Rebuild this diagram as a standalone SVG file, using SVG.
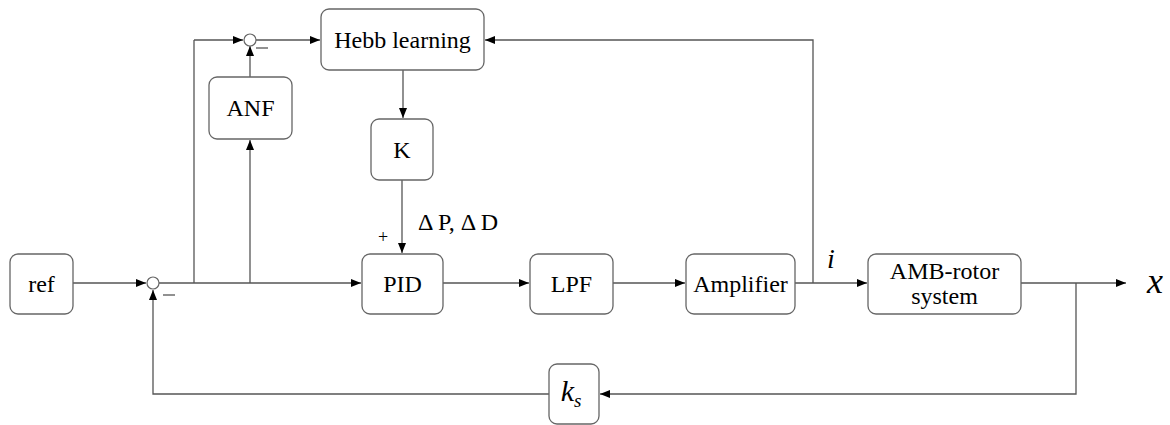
<svg xmlns="http://www.w3.org/2000/svg" width="1170" height="425" viewBox="0 0 1170 425">
<defs>
<marker id="ah" markerWidth="10" markerHeight="8" refX="10" refY="4" orient="auto" markerUnits="userSpaceOnUse">
<path d="M0,0 L10,4 L0,8 Z" fill="#000"/>
</marker>
<style>
.box{fill:#fff;stroke:#666;stroke-width:1.3}
.ln{fill:none;stroke:#555;stroke-width:1.3}
.ar{fill:none;stroke:#555;stroke-width:1.3;marker-end:url(#ah)}
.sum{fill:#fff;stroke:#666;stroke-width:1.2}
</style>
</defs>
<rect width="1170" height="425" fill="#fff"/>
<g id="connectors">
<path class="ar" d="M73,283 H146"/>
<path class="ar" d="M159,283 H361"/>
<path class="ln" d="M194,283 V40"/>
<path class="ar" d="M194,40 H243"/>
<path class="ar" d="M250,283 V140"/>
<path class="ar" d="M250,77 V46"/>
<path class="ar" d="M256,40 H320"/>
<path class="ar" d="M403,70 V118"/>
<path class="ar" d="M402,180 V253"/>
<path class="ar" d="M443,283 H529"/>
<path class="ar" d="M613,283 H685"/>
<path class="ar" d="M795,283 H867"/>
<path class="ar" d="M813,283 V40 H485"/>
<path class="ar" d="M1021,283 H1126"/>
<path class="ar" d="M1076,283 V394 H600"/>
<path class="ar" d="M549,394 H153 V290"/>
</g>
<g id="sum1">
<circle class="sum" cx="153" cy="283" r="6"/>
<path class="ln" d="M163,295 H175"/>
</g>
<g id="sum2">
<circle class="sum" cx="250" cy="40" r="6"/>
<path class="ln" d="M256,48 H268"/>
</g>
<g id="ref">
<rect class="box" x="10" y="254" width="63" height="60" rx="8"/>
<text font-family="Liberation Serif" font-size="24" text-anchor="middle" x="41.5" y="292">ref</text>
</g>
<g id="anf">
<rect class="box" x="209" y="77" width="83" height="62" rx="8"/>
<text font-family="Liberation Serif" font-size="24" text-anchor="middle" x="250.5" y="116">ANF</text>
</g>
<g id="hebb">
<rect class="box" x="321" y="9" width="163" height="61" rx="8"/>
<text font-family="Liberation Serif" font-size="24" text-anchor="middle" x="402.5" y="48">Hebb learning</text>
</g>
<g id="k">
<rect class="box" x="371" y="119" width="62" height="61" rx="8"/>
<text font-family="Liberation Serif" font-size="24" text-anchor="middle" x="402" y="158">K</text>
</g>
<g id="pid">
<rect class="box" x="362" y="254" width="81" height="60" rx="8"/>
<text font-family="Liberation Serif" font-size="24" text-anchor="middle" x="402.5" y="292">PID</text>
</g>
<g id="lpf">
<rect class="box" x="530" y="254" width="83" height="60" rx="8"/>
<text font-family="Liberation Serif" font-size="24" text-anchor="middle" x="571.5" y="292">LPF</text>
</g>
<g id="amplifier">
<rect class="box" x="686" y="254" width="109" height="60" rx="8"/>
<text font-family="Liberation Serif" font-size="24" text-anchor="middle" x="740.5" y="292">Amplifier</text>
</g>
<g id="amb">
<rect class="box" x="868" y="254" width="153" height="60" rx="8"/>
<text font-family="Liberation Serif" font-size="24" text-anchor="middle" x="944.5" y="279">AMB-rotor</text>
<text font-family="Liberation Serif" font-size="24" text-anchor="middle" x="944.5" y="304">system</text>
</g>
<g id="ks">
<rect class="box" x="549" y="364" width="50" height="60" rx="8"/>
<text font-family="Liberation Serif" font-style="italic" font-size="30" text-anchor="middle" x="571" y="401">k<tspan dy="6" font-size="19">s</tspan></text>
</g>
<g id="labels">
<text font-family="Liberation Serif" font-size="24" text-anchor="middle" x="458" y="230">Δ P, Δ D</text>
<text font-family="Liberation Serif" font-size="18" text-anchor="middle" x="383" y="243">+</text>
<text font-family="Liberation Serif" font-style="italic" font-size="28" text-anchor="middle" x="831" y="268">i</text>
<text font-family="Liberation Serif" font-style="italic" font-size="36" text-anchor="middle" x="1155" y="293">x</text>
</g>
</svg>
